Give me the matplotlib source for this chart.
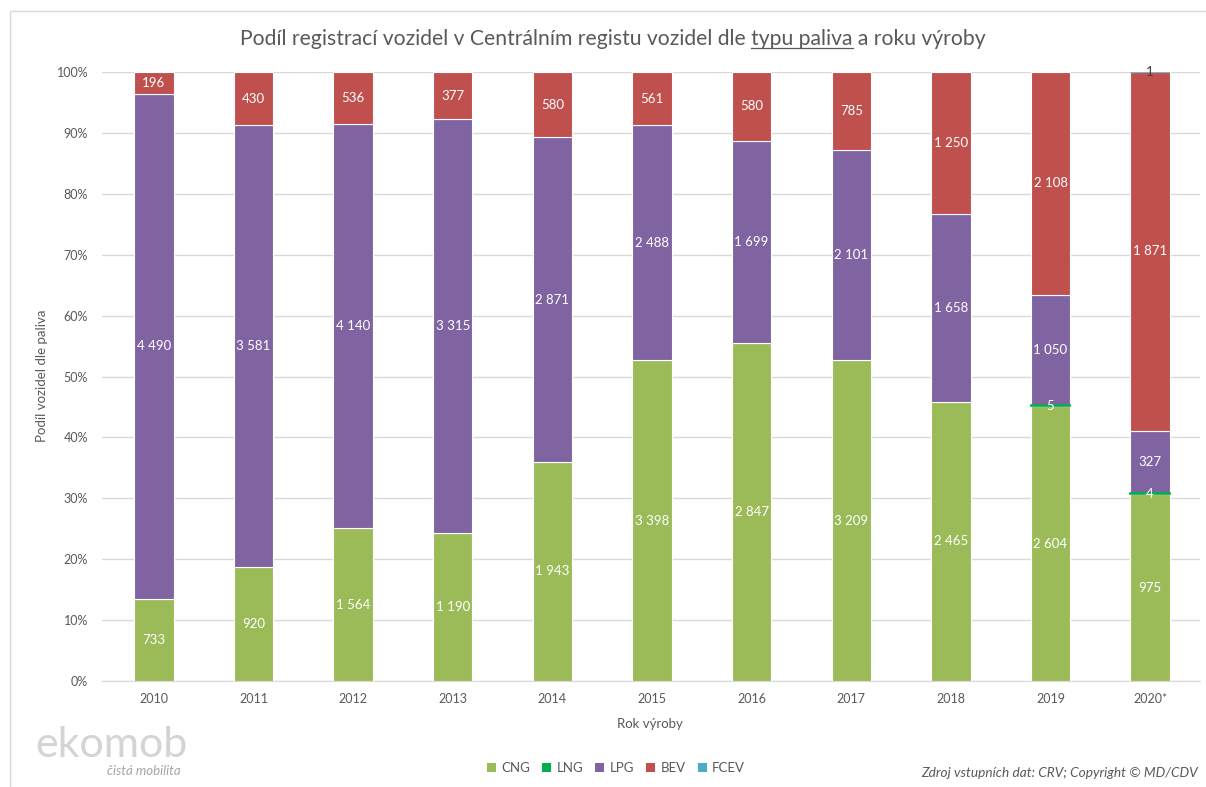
import numpy as np
import matplotlib.pyplot as plt
from matplotlib.patches import Rectangle, Patch

plt.rcParams['font.family'] = ['Lato', 'DejaVu Sans']

years = ['2010', '2011', '2012', '2013', '2014', '2015', '2016', '2017', '2018', '2019', '2020*']
fuels = ['CNG', 'LNG', 'LPG', 'BEV', 'FCEV']
cng = [733, 920, 1564, 1190, 1943, 3398, 2847, 3209, 2465, 2604, 975]
lng = [0, 0, 0, 0, 0, 0, 0, 0, 0, 5, 4]
lpg = [4490, 3581, 4140, 3315, 2871, 2488, 1699, 2101, 1658, 1050, 327]
bev = [196, 430, 536, 377, 580, 561, 580, 785, 1250, 2108, 1871]
fcev = [0, 0, 0, 0, 0, 0, 0, 0, 0, 0, 1]
colors = ['#9BBB59', '#00B050', '#8064A2', '#C0504D', '#4BACC6']

grey = '#595959'
counts = np.array([cng, lng, lpg, bev, fcev], dtype=float)
shares = counts / counts.sum(axis=0)

fig = plt.figure(figsize=(12.06, 7.87), dpi=100)
ax = fig.add_axes([0.0846, 0.1347, 0.9104, 0.7738])

x = np.arange(len(years))
bottom = np.zeros(len(years))
for i, fuel in enumerate(fuels):
    # tiny series (LNG, FCEV) get an outline in their own colour so they stay visible
    thin = fuel in ('LNG', 'FCEV')
    if thin:
        edges = [colors[i] if c > 0 else 'none' for c in counts[i]]
        ax.bar(x, shares[i], 0.395, bottom=bottom, color=colors[i],
               edgecolor=edges, linewidth=1.2, zorder=4)
    else:
        ax.bar(x, shares[i], 0.395, bottom=bottom, color=colors[i],
               edgecolor='white', linewidth=0.8, zorder=3)
    for j in range(len(years)):
        if counts[i, j] > 0:
            txt_col = '#404040' if fuel == 'FCEV' else 'white'
            ax.text(x[j], bottom[j] + shares[i, j] / 2,
                    f'{int(counts[i, j]):,}'.replace(',', ' '),
                    ha='center', va='center', fontsize=9.5, color=txt_col, zorder=5)
    bottom += shares[i]

ax.set_xlim(-0.52, 10.5)
ax.set_ylim(0, 1)
ax.set_yticks(np.arange(0, 1.01, 0.1))
ax.set_yticklabels([f'{int(round(v * 100))}%' for v in np.arange(0, 1.01, 0.1)])
ax.set_xticks(x)
ax.set_xticklabels(years)
ax.tick_params(axis='both', length=0, labelsize=9, colors=grey)
ax.tick_params(axis='x', pad=9)
ax.tick_params(axis='y', pad=10)
ax.grid(axis='y', color='#d9d9d9', linewidth=1, zorder=0)
for side in ['top', 'right', 'left']:
    ax.spines[side].set_visible(False)
ax.spines['bottom'].set_color('#d9d9d9')

fig.text(42 / 1206, 1 - 376 / 787, 'Podíl vozidel dle paliva', rotation=90,
         ha='center', va='center', fontsize=9.5, color=grey)
fig.text(650 / 1206, 1 - 724 / 787, 'Rok výroby', ha='center', va='center',
         fontsize=9.5, color=grey)

# title with the underlined part
title = 'Podíl registrací vozidel v Centrálním registu vozidel dle typu paliva a roku výroby'
under = 'typu paliva'
tsize = 15.2
tx, ty = 613 / 1206, 1 - 39 / 787
t = fig.text(tx, ty, title, ha='center', va='center', fontsize=tsize, color=grey)
fig.canvas.draw()
r = fig.canvas.get_renderer()
bb = t.get_window_extent(r)
upto = title[:title.index(under) + len(under)]
probe1 = fig.text(0, 0, upto, fontsize=tsize)
probe2 = fig.text(0, 0, under, fontsize=tsize)
w1 = probe1.get_window_extent(r).width
w2 = probe2.get_window_extent(r).width
probe1.remove()
probe2.remove()
x_end = bb.x0 + w1
x_start = x_end - w2
W, H = fig.bbox.width, fig.bbox.height
fig.add_artist(plt.Line2D([x_start / W, x_end / W], [(bb.y0 + 1) / H] * 2,
                          color=grey, linewidth=0.9))

handles = [Patch(facecolor=c, edgecolor='none') for c in colors]
fig.legend(handles, fuels, loc='center', bbox_to_anchor=(616 / 1206, 1 - 768 / 787),
           ncol=5, frameon=False, fontsize=9.5, handlelength=0.7, handleheight=0.7,
           handletextpad=0.4, columnspacing=0.9, labelcolor=grey)

fig.text(1198 / 1206, 1 - 773 / 787, 'Zdroj vstupních dat: CRV; Copyright © MD/CDV',
         ha='right', va='center', fontsize=9.8, style='italic', color=grey)

# logo
fig.text(35 / 1206, 1 - 757 / 787, 'ekomob', ha='left', va='baseline', fontsize=31,
         color='#d4d4d4')
fig.text(107 / 1206, 1 - 771 / 787, 'čistá mobilita', ha='left', va='center',
         fontsize=9.5, style='italic', color='#a6a6a6')

# chart frame
fig.add_artist(Rectangle((10 / 1206, -0.05), 1.0, 1 - 11 / 787 + 0.05, fill=False,
                         edgecolor='#d9d9d9', linewidth=1, transform=fig.transFigure))

fig.savefig('out.png', dpi=100)
